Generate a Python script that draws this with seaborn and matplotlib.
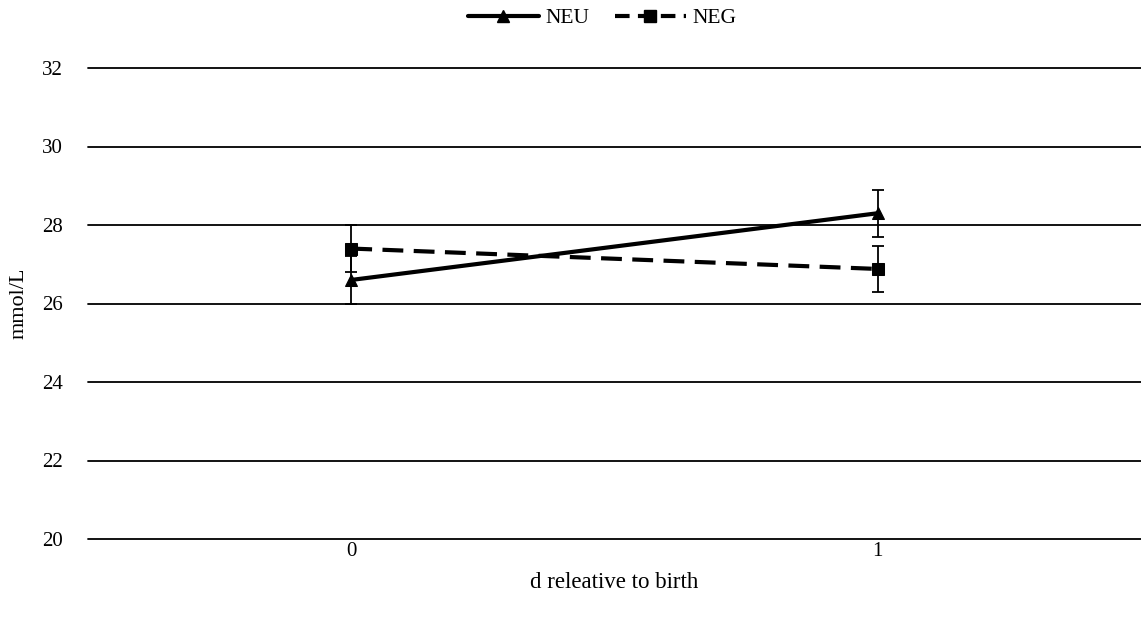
import matplotlib
matplotlib.use("Agg")
import matplotlib.pyplot as plt
import seaborn as sns
import pandas as pd

days = [0, 1]
neu_mean = [26.6, 28.3]
neu_err = [0.6, 0.6]
neg_mean = [27.4, 26.88]
neg_err = [0.6, 0.59]
xtick_labels = ["0", "1"]

sns.set_theme(style="white")
plt.rcParams['font.family'] = ['Liberation Serif', 'DejaVu Serif']
plt.rcParams['text.color'] = 'black'
plt.rcParams['axes.labelcolor'] = 'black'
plt.rcParams['xtick.color'] = 'black'
plt.rcParams['ytick.color'] = 'black'

df = pd.DataFrame({
    "day": days * 2,
    "value": neu_mean + neg_mean,
    "group": ["NEU"] * 2 + ["NEG"] * 2,
})

fig = plt.figure(figsize=(11.41, 6.21), dpi=100)
ax = fig.add_axes([88 / 1141, 1 - 539 / 621, 1 - 88 / 1141, (539 - 68) / 621])

for y in range(20, 33, 2):
    ax.axhline(y, color="black", lw=1.3, zorder=0, clip_on=False)

ax.errorbar(days, neu_mean, yerr=neu_err, fmt="none", ecolor="black", elinewidth=1.3, capsize=4.5, capthick=1.3, zorder=2)
ax.errorbar(days, neg_mean, yerr=neg_err, fmt="none", ecolor="black", elinewidth=1.3, capsize=4.5, capthick=1.3, zorder=2)

sns.lineplot(data=df, x="day", y="value", hue="group", style="group",
             palette={"NEU": "black", "NEG": "black"},
             markers={"NEU": "^", "NEG": "s"},
             dashes={"NEU": "", "NEG": (5, 2.5)},
             linewidth=3, markersize=9, markeredgecolor="black",
             ax=ax, zorder=3, legend=False)

ax.set_xlim(-0.5, 1.5)
ax.set_ylim(20, 32)
ax.set_xticks(days)
ax.set_xticklabels(xtick_labels)
ax.set_yticks(range(20, 33, 2))
ax.tick_params(axis="x", labelsize=15, length=0, pad=2)
ax.tick_params(axis="y", labelsize=15, length=0, pad=18)
ax.set_xlabel("d releative to birth", fontsize=16.5, labelpad=8)
ax.set_ylabel("mmol/L", fontsize=16, labelpad=10)
for s in ax.spines.values():
    s.set_visible(False)

from matplotlib.lines import Line2D
handles = [
    Line2D([], [], color="black", lw=3, marker="^", markersize=9),
    Line2D([], [], color="black", lw=3, marker="s", markersize=9, dashes=(3.5, 2)),
]
fig.legend(handles, ["NEU", "NEG"], loc="center", bbox_to_anchor=(602 / 1141, 1 - 18 / 621),
           ncol=2, frameon=False, fontsize=15.5, handlelength=3.3, handletextpad=0.3, columnspacing=1.2)

fig.savefig("out.png", dpi=100)
